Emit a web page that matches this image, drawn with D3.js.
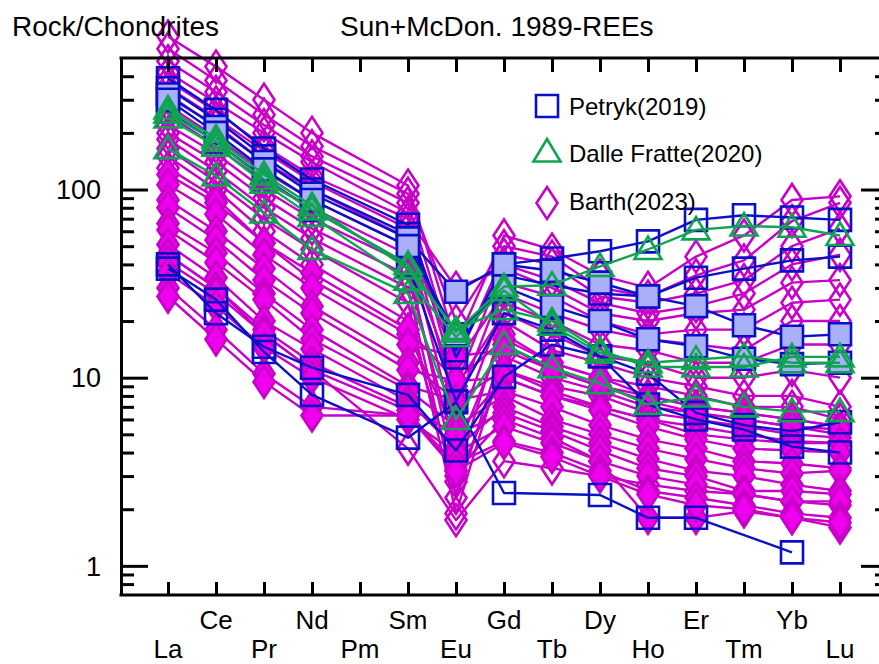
<!DOCTYPE html>
<html>
<head>
<meta charset="utf-8">
<script src="https://cdn.jsdelivr.net/npm/d3@7"></script>
<style>
  body { margin: 0; background: #fff; }
  text { font-family: "Liberation Sans", Arial, sans-serif; fill: #000; }
</style>
</head>
<body>
<div id="chart"></div>
<script>
// REE order (Pm has no data)
var ree = ["La","Ce","Pr","Nd","Pm","Sm","Eu","Gd","Tb","Dy","Ho","Er","Tm","Yb","Lu"];
var yMajor = [1, 10, 100];
var yMinor = [0.8, 0.9, 2, 3, 4, 5, 6, 7, 8, 9, 20, 30, 40, 50, 60, 70, 80, 90, 200, 300, 400];

// Petryk (2019) - filled squares
var petrykFilled = [
  [320,215,140,95,null,55,28.6,40,37,32,27,24,19,16.5,17],
  [300,200,128,88,null,50,17,30.5,24,20,16,14.7,12.6,11.8,12]
];
// Petryk (2019) - open squares
var petrykOpen = [
  [390,265,165,113,null,65,12.8,40,43,47,53,69,73,71,69],
  [345,235,150,100,null,58,14,35,31,28,27,34,38,42,44],
  [260,180,115,78,null,40,7.5,22,18,13,10.5,6.5,5.6,5.2,5.8],
  [40,22,14.6,11.3,null,8.1,4.1,10.1,15,13,7.2,6,5.3,4.3,4],
  [38,26,13.7,8.1,null,4.8,7.4,2.44,null,2.38,1.8,1.8,null,1.18,null]
];
// Dalle Fratte (2020) - open triangles
var dalleFratte = [
  [255,180,113,78,null,40,17.5,30.5,31,39,48,61,64,63,57],
  [165,118,75,48,null,28,6,15,11.3,9.3,7.2,7.9,7,6.6,6.6],
  [268,188,120,82,null,38,18,23,20,14,11.4,11.4,11.4,12.9,12.9],
  [240,170,108,72,null,33,16.5,29,19,13.5,12,12.5,13,12,12]
];
// Barth (2023) - open diamonds
var barthOpen = [
  [650,450,300,200,null,105,15,57,48,35,30,44,57,88,92],
  [560,380,250,170,null,95,20,50,44,30,27,35,42,68,85],
  [480,330,220,150,null,85,12,45,40,27,25,28,33,50,62],
  [420,290,200,140,null,75,9,40,33,25,22,24,28,40,45],
  [380,260,170,118,null,70,30,38,30,22,20,22,23,32,33],
  [350,240,160,110,null,62,7,32,27,20,17,18,18,25,26],
  [310,220,140,100,null,55,12,28,22,18,16,15,14,20,20],
  [280,190,125,88,null,50,5,25,20,15,14,12,12,15,15],
  [250,170,110,80,null,45,9,22,17,13,12,10,10,11,10],
  [220,155,100,70,null,40,3,20,14,12,10,9,8,8,7],
  [200,140,90,62,null,35,4,17,12,10,9,8,7,7,6],
  [185,125,80,55,null,30,2.3,15,11,9,8,7,6.5,6,5.5],
  [165,110,70,48,null,25,1.9,13,10,8.5,7,6.5,6,5.5,5],
  [150,100,60,40,null,20,2.8,11,9,8,6.5,6,5.5,5,4.8],
  [130,90,52,33,null,17,5,10,8,7,6,5.5,5,4.6,4.5],
  [45,30,17,11,null,4.2,1.75,3.6,3.3,3,2.7,2.5,2.4,2.2,2.1]
];
// Barth (2023) - filled diamonds
var barthFilled = [
  [120,85,52,36,null,18,9.6,16,12,10,8,7,6.5,6,5.5],
  [106,74,45,30,null,15,13,14,11,9,7.5,6.5,6,5.5,5.3],
  [88,60,38,24,null,12,7.6,11,8.5,7,6,5,4.7,4.5,4.5],
  [80,54,33,22,null,11,9.6,10,8,6.7,5.5,4.7,4.2,4.1,4],
  [66,46,28,18,null,9,7.6,8.5,7,5.6,4.7,4.2,3.6,3.5,3.3],
  [61,41,26,16,null,8.6,5.5,8,6,5,4.2,3.7,3.3,3.1,3.2],
  [51,34,20,14.2,null,7.5,4.2,7,5.5,4.5,3.7,3.2,3,2.7,2.5],
  [45,30,18,12,null,7,5,6.5,5.2,4.1,3.3,3,2.5,2.5,2.4],
  [41,28,17,11,null,6.7,3.2,6,4.8,3.6,3,2.7,2.4,2.2,2.2],
  [36,24,14.5,10,null,6,4,5.5,4.5,3.6,1.8,1.8,1.95,1.8,1.6],
  [30,18,10.5,7,null,6.3,3.5,4.6,4,3.2,2.5,2.3,2.1,1.9,1.8],
  [27,16,9.5,6.3,null,6.3,3.2,4.5,3.8,3,2.4,2.1,2,1.8,1.7]
];

var legendNames = ["Petryk(2019)", "Dalle Fratte(2020)", "Barth(2023)"];

var width = 879, height = 664;
var svg = d3.select("#chart").append("svg")
  .attr("width", width).attr("height", height);

// index -1 is the left frame, 15 the (off-page) right frame
var x = d3.scaleLinear().domain([-1, 15]).range([120, 888]);
var y = d3.scaleLog().domain([0.7, 500]).range([595, 58]);

var BLUE = "#0a10c8", LBLUE = "#aab0f8", GREEN = "#10a452", MAG = "#c800c8", MAGF = "#ee00ee";

var shapes = {
  square: "M-11,-11h22v22h-22Z",
  triangle: "M0,-13L13.5,9.5L-13.5,9.5Z",
  diamond: "M0,-16L10.5,0L0,16L-10.5,0Z"
};

var line = d3.line()
  .x(function(d) { return x(d.i); })
  .y(function(d) { return y(d.v); });

function drawSeries(list, opt) {
  list.forEach(function(vals) {
    var pts = vals.map(function(v, i) { return {i: i, v: v}; })
      .filter(function(d) { return d.v != null; });
    var g = svg.append("g");
    g.append("path").datum(pts)
      .attr("d", line)
      .attr("fill", "none")
      .attr("stroke", opt.line)
      .attr("stroke-width", 2.4)
      .attr("stroke-linejoin", "round");
    g.selectAll("path.m").data(pts).enter().append("path")
      .attr("class", "m")
      .attr("d", shapes[opt.shape])
      .attr("transform", function(d) { return "translate(" + x(d.i) + "," + y(d.v) + ")"; })
      .attr("fill", opt.fill)
      .attr("stroke", opt.stroke)
      .attr("stroke-width", 2.6);
  });
}

drawSeries(barthOpen, {shape: "diamond", line: MAG, stroke: MAG, fill: "none"});
drawSeries(barthFilled, {shape: "diamond", line: MAG, stroke: MAG, fill: MAGF});
drawSeries(petrykOpen, {shape: "square", line: BLUE, stroke: BLUE, fill: "none"});
drawSeries(petrykFilled, {shape: "square", line: BLUE, stroke: BLUE, fill: LBLUE});
drawSeries(dalleFratte, {shape: "triangle", line: GREEN, stroke: GREEN, fill: "none"});

// axes
var idx = d3.range(ree.length);
var axB = svg.append("g").attr("transform", "translate(0,595)")
  .call(d3.axisBottom(x).tickValues(idx).tickSize(-13).tickSizeOuter(0).tickFormat(""));
var axT = svg.append("g").attr("transform", "translate(0,58)")
  .call(d3.axisTop(x).tickValues(idx).tickSize(-14).tickSizeOuter(0).tickFormat(""));
var axL = svg.append("g").attr("transform", "translate(121,0)")
  .call(d3.axisLeft(y).tickValues(yMinor).tickSize(-13).tickSizeOuter(0).tickFormat(""));
var axLM = svg.append("g").attr("transform", "translate(121,0)")
  .call(d3.axisLeft(y).tickValues(yMajor).tickSize(-27).tickSizeOuter(0).tickFormat(""));
var axR = svg.append("g").attr("transform", "translate(888,0)")
  .call(d3.axisRight(y).tickValues(yMinor).tickSize(-13).tickSizeOuter(0).tickFormat(""));
var axRM = svg.append("g").attr("transform", "translate(888,0)")
  .call(d3.axisRight(y).tickValues(yMajor).tickSize(-27).tickSizeOuter(0).tickFormat(""));
[axB, axT, axL, axLM, axR, axRM].forEach(function(a) {
  a.selectAll("path.domain").attr("stroke", "#000").attr("stroke-width", 3);
  a.selectAll(".tick line").attr("stroke", "#000").attr("stroke-width", 3);
});
axT.select("path.domain").attr("d", "M119.5,0H888");
axB.select("path.domain").attr("d", "M119.5,0H888");

// y labels
svg.selectAll("text.ylab").data(yMajor).enter().append("text")
  .attr("class", "ylab")
  .attr("x", 101)
  .attr("y", function(d) { return y(d); })
  .attr("dy", "0.36em")
  .attr("text-anchor", "end")
  .attr("font-size", 27)
  .text(function(d) { return d; });

// x labels, staggered
svg.selectAll("text.xlab").data(ree).enter().append("text")
  .attr("class", "xlab")
  .attr("x", function(d, i) { return x(i); })
  .attr("y", function(d, i) { return i % 2 === 0 ? 658 : 629; })
  .attr("text-anchor", "middle")
  .attr("font-size", 26)
  .text(function(d) { return d; });

svg.append("text").attr("x", 12).attr("y", 36).attr("font-size", 28).text("Rock/Chondrites");
svg.append("text").attr("x", 340).attr("y", 36).attr("font-size", 28).text("Sun+McDon. 1989-REEs");

// legend
var leg = [
  {shape: "square", stroke: BLUE, cy: 106, ty: 115},
  {shape: "triangle", stroke: GREEN, cy: 152, ty: 162},
  {shape: "diamond", stroke: MAG, cy: 203, ty: 210}
];
leg.forEach(function(l, i) {
  svg.append("path").attr("d", shapes[l.shape])
    .attr("transform", "translate(547," + l.cy + ")")
    .attr("fill", "none").attr("stroke", l.stroke).attr("stroke-width", 2.6);
  svg.append("text").attr("x", 569).attr("y", l.ty).attr("font-size", 24).text(legendNames[i]);
});
</script>
</body>
</html>
